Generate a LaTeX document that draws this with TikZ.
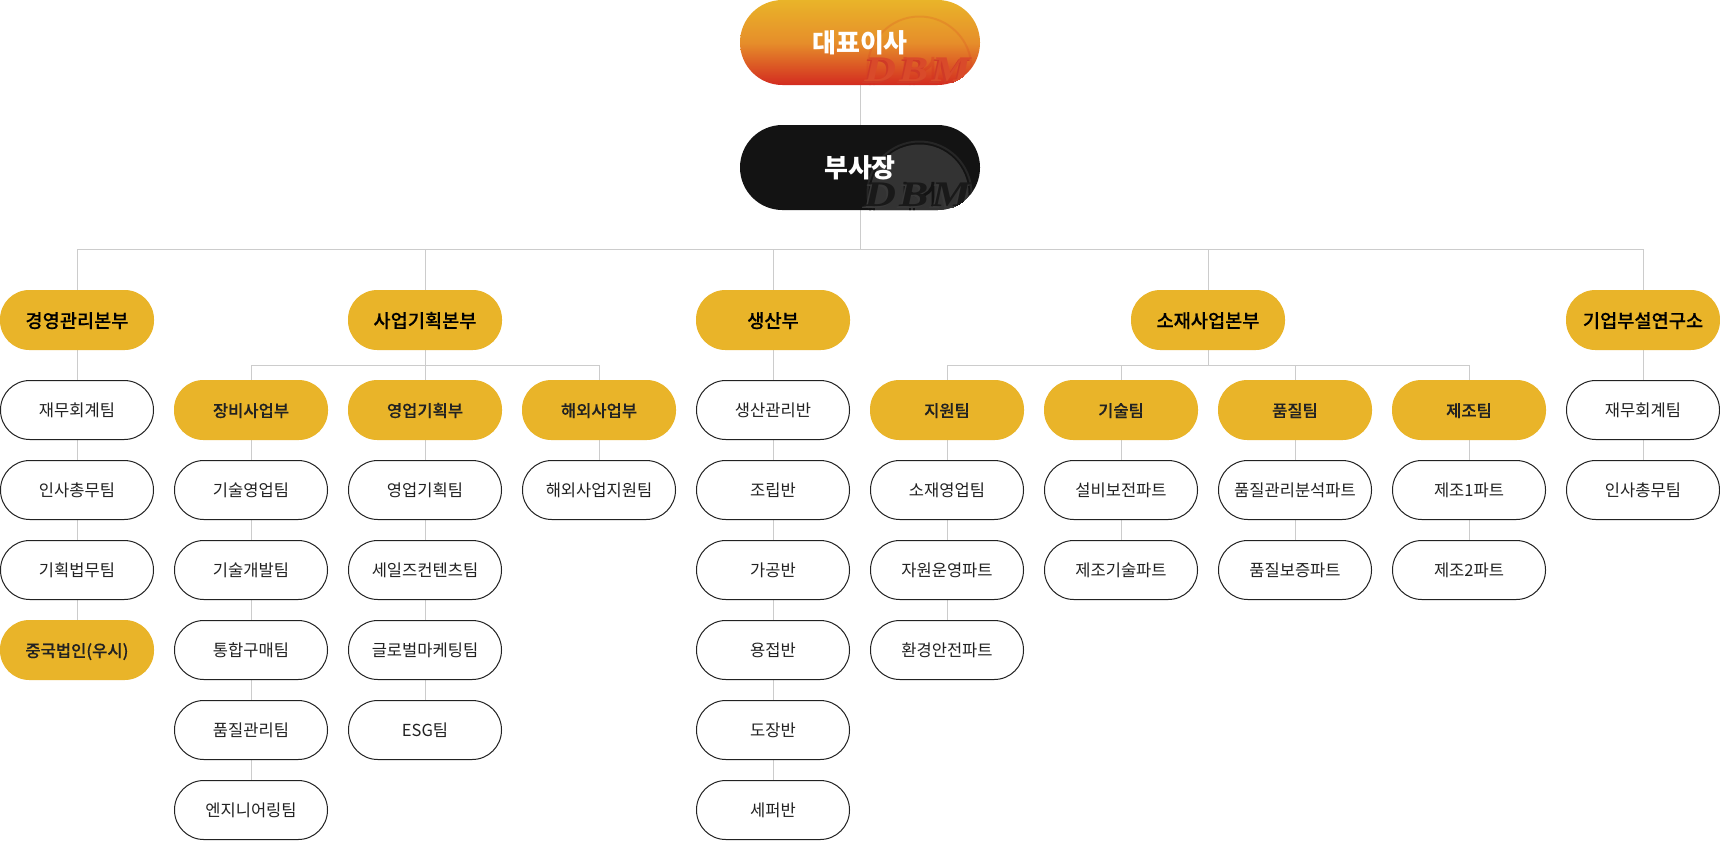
\documentclass[tikz,border=0pt]{standalone}
\usepackage{fontspec}
\setmainfont{Noto Sans CJK KR}
\newfontfamily\medfont{Noto Sans CJK KR Medium}[FakeBold=0.15]
\newfontfamily\logofont{Liberation Serif Bold Italic}[LetterSpace=7]
\usetikzlibrary{backgrounds}
\definecolor{gold}{HTML}{E9B429}
\definecolor{ink}{HTML}{222222}
\definecolor{linegray}{HTML}{CCCCCC}
\definecolor{hdark}{HTML}{131313}
\definecolor{gradmid}{HTML}{E68E2A}
\definecolor{gradend}{HTML}{D32B20}
\definecolor{ceoface}{HTML}{D94A2A}
\definecolor{ceoext}{HTML}{CF3A27}
\newcommand{\dbmlogo}[5]{%
  % #1 ring, #2 disc fill, #3 spindle, #4 face, #5 extrusion; coordinates relative to the pill centre
  \begin{scope}[sharp corners]
    \fill[#2] (59.5,26) circle[radius=49];
    \draw[#1,line width=1.5pt] (59.5,26) circle[radius=52];
    \draw[#3,line width=2.2pt] (45,40) -- (45,14.5) arc[start angle=180,end angle=0,radius=14] -- (73,14.5) -- (73,40);
    \draw[#3,line width=0.8pt] (10,38) -- (10,43) (14,38) -- (14,43) (50,38) -- (50,43) (54,38) -- (54,43);
    \node[inner sep=0pt,outer sep=0pt,minimum size=0pt,text=#5] at (55.5,29) {\fontsize{27pt}{27pt}\logofont\scalebox{1.22}[1]{DBM}};
    \node[inner sep=0pt,outer sep=0pt,minimum size=0pt,text=#4] at (57.5,27) {\fontsize{27pt}{27pt}\logofont\scalebox{1.22}[1]{DBM}};
  \end{scope}}
\tikzset{
  x=0.75pt,y=-0.75pt,
  pill/.style={minimum width=114.75pt,minimum height=44.25pt,inner sep=0pt,outer sep=0pt,rounded corners=22pt,line width=0.75pt},
  whitepill/.style={pill,draw=ink,fill=white,text=ink,text height=11pt,text depth=0.8pt,font=\fontsize{12.4pt}{15pt}\selectfont},
  goldpill/.style={pill,fill=gold,minimum width=115.5pt,minimum height=45pt,text=ink,text height=11pt,text depth=0.8pt,font=\fontsize{12.4pt}{15pt}\medfont},
  headpill/.style={goldpill,text=black,text height=12pt,text depth=0.6pt,font=\fontsize{14pt}{16pt}\medfont},
  toppill/.style={minimum width=180pt,minimum height=63.75pt,inner sep=0pt,outer sep=0pt,rounded corners=31.8pt},
  toptext/.style={inner sep=0pt,text=white,font=\fontsize{19.5pt}{22pt}\bfseries},
  conn/.style={draw=linegray,line width=0.75pt},
}
\begin{document}
\begin{tikzpicture}
\useasboundingbox (0,0) rectangle (1720,840);
% top nodes
\node[toppill,top color=gold,bottom color=gradend,middle color=gradmid,
  path picture={\dbmlogo{gradend,opacity=0.16}{opacity=0}{gradend,opacity=0.3}{ceoface}{ceoext}}] (ceo) at (860,42.5) {};
\node[toppill,fill=hdark,
  path picture={\dbmlogo{black!85!white}{black!80!white}{hdark}{black!90!white}{black!78!white}}] (vp) at (860,167.5) {};
\node[toptext] (ceotext) at (ceo.center) {대표이사};
\node[toptext] (vptext) at (vp.center) {부사장};
% heads
\node[headpill] (a0) at (77,320) {경영관리본부};
\node[headpill] (c0) at (425,320) {사업기획본부};
\node[headpill] (e0) at (773,320) {생산부};
\node[headpill] (m0) at (1208,320) {소재사업본부};
\node[headpill] (j0) at (1643,320) {기업부설연구소};
% column A
\node[whitepill] (a1) at (77,410) {재무회계팀};
\node[whitepill] (a2) at (77,490) {인사총무팀};
\node[whitepill] (a3) at (77,570) {기획법무팀};
\node[goldpill] (a4) at (77,650) {중국법인(우시)};
% column B
\node[goldpill] (b1) at (251,410) {장비사업부};
\node[whitepill] (b2) at (251,490) {기술영업팀};
\node[whitepill] (b3) at (251,570) {기술개발팀};
\node[whitepill] (b4) at (251,650) {통합구매팀};
\node[whitepill] (b5) at (251,730) {품질관리팀};
\node[whitepill] (b6) at (251,810) {엔지니어링팀};
% column C
\node[goldpill] (c1) at (425,410) {영업기획부};
\node[whitepill] (c2) at (425,490) {영업기획팀};
\node[whitepill] (c3) at (425,570) {세일즈컨텐츠팀};
\node[whitepill] (c4) at (425,650) {글로벌마케팅팀};
\node[whitepill] (c5) at (425,730) {ESG팀};
% column D
\node[goldpill] (d1) at (599,410) {해외사업부};
\node[whitepill] (d2) at (599,490) {해외사업지원팀};
% column E
\node[whitepill] (e1) at (773,410) {생산관리반};
\node[whitepill] (e2) at (773,490) {조립반};
\node[whitepill] (e3) at (773,570) {가공반};
\node[whitepill] (e4) at (773,650) {용접반};
\node[whitepill] (e5) at (773,730) {도장반};
\node[whitepill] (e6) at (773,810) {세퍼반};
% column F
\node[goldpill] (f1) at (947,410) {지원팀};
\node[whitepill] (f2) at (947,490) {소재영업팀};
\node[whitepill] (f3) at (947,570) {자원운영파트};
\node[whitepill] (f4) at (947,650) {환경안전파트};
% column G
\node[goldpill] (g1) at (1121,410) {기술팀};
\node[whitepill] (g2) at (1121,490) {설비보전파트};
\node[whitepill] (g3) at (1121,570) {제조기술파트};
% column H
\node[goldpill] (h1) at (1295,410) {품질팀};
\node[whitepill] (h2) at (1295,490) {품질관리분석파트};
\node[whitepill] (h3) at (1295,570) {품질보증파트};
% column I
\node[goldpill] (i1) at (1469,410) {제조팀};
\node[whitepill] (i2) at (1469,490) {제조1파트};
\node[whitepill] (i3) at (1469,570) {제조2파트};
% column J
\node[whitepill] (j1) at (1643,410) {재무회계팀};
\node[whitepill] (j2) at (1643,490) {인사총무팀};
% buses
\coordinate (bus0) at (860,249.5);
\coordinate (busc) at (425,365);
\coordinate (busm) at (1208,365);
\begin{scope}[on background layer]
  \fill[white] (0,0) rectangle (1720,840);
  \draw[conn] (ceo) -- (vp);
  \draw[conn] (vp) -- (bus0);
  \foreach \n in {a0,c0,e0,m0,j0} \draw[conn] (\n.north) |- (bus0);
  \draw[conn] (c0) -- (busc);
  \foreach \n in {b1,c1,d1} \draw[conn] (\n.north) |- (busc);
  \draw[conn] (m0) -- (busm);
  \foreach \n in {f1,g1,h1,i1} \draw[conn] (\n.north) |- (busm);
  \foreach \p/\q in {a0/a1,a1/a2,a2/a3,a3/a4,
    b1/b2,b2/b3,b3/b4,b4/b5,b5/b6,
    c1/c2,c2/c3,c3/c4,c4/c5,
    d1/d2,
    e0/e1,e1/e2,e2/e3,e3/e4,e4/e5,e5/e6,
    f1/f2,f2/f3,f3/f4,
    g1/g2,g2/g3,
    h1/h2,h2/h3,
    i1/i2,i2/i3,
    j0/j1,j1/j2} \draw[conn] (\p) -- (\q);
\end{scope}
\end{tikzpicture}
\end{document}
